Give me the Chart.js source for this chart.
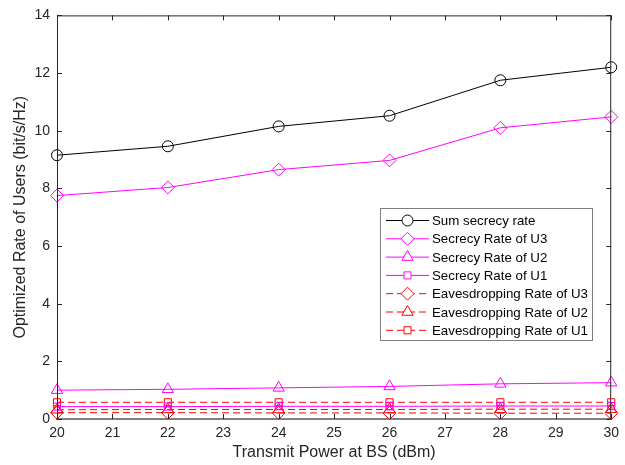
<!DOCTYPE html>
<html lang="en">
<head>
  <meta charset="UTF-8" />
  <title>Optimized Rate of Users</title>
  <script src="https://cdn.jsdelivr.net/npm/chart.js"></script>
  <style>
    * { margin: 0; padding: 0; box-sizing: border-box; }
    body { background: #fff; width: 625px; height: 465px; overflow: hidden; }
    .wrap { position: relative; width: 625px; height: 465px; }
  </style>
</head>
<body>
  <div class="wrap"><canvas id="rateChart" width="625" height="465"></canvas></div>

  <script>
    // data
    const powers = [20, 22, 24, 26, 28, 30];
    const sumSecrecy = [9.15, 9.46, 10.15, 10.52, 11.75, 12.2];
    const secrecyU3 = [7.75, 8.03, 8.65, 8.97, 10.1, 10.48];
    const secrecyU2 = [1.0, 1.03, 1.08, 1.13, 1.22, 1.26];
    const secrecyU1 = [0.43, 0.43, 0.44, 0.44, 0.45, 0.45];
    const eavesU3 = [0.22, 0.22, 0.21, 0.21, 0.2, 0.2];
    const eavesU2 = [0.32, 0.33, 0.33, 0.33, 0.34, 0.34];
    const eavesU1 = [0.58, 0.58, 0.58, 0.58, 0.58, 0.58];
    const xTicks = [20, 21, 22, 23, 24, 25, 26, 27, 28, 29, 30];
    const yTicks = [0, 2, 4, 6, 8, 10, 12, 14];

    const FONT = "'Liberation Sans', Arial, sans-serif";
    const AXIS = "#262626";

    function pts(ys) {
      return powers.map((x, i) => ({ x: x, y: ys[i] }));
    }

    function series(label, ys, color, style, radius, dashed) {
      return {
        label: label,
        data: pts(ys),
        borderColor: color,
        backgroundColor: "rgba(0,0,0,0)",
        borderWidth: 1,
        borderDash: dashed ? [7, 4] : [],
        pointStyle: style,
        pointRadius: radius,
        pointBorderColor: color,
        pointBackgroundColor: "rgba(0,0,0,0)",
        pointBorderWidth: 1,
        tension: 0,
        clip: false
      };
    }

    const datasets = [
      series("Sum secrecy rate", sumSecrecy, "#000000", "circle", 5.5, false),
      series("Secrecy Rate of U3", secrecyU3, "#ff00ff", "rectRot", 6.5, false),
      series("Secrecy Rate of U2", secrecyU2, "#ff00ff", "triangle", 6.5, false),
      series("Secrecy Rate of U1", secrecyU1, "#ff00ff", "rect", 5, false),
      series("Eavesdropping Rate of U3", eavesU3, "#ff0000", "rectRot", 6.5, true),
      series("Eavesdropping Rate of U2", eavesU2, "#ff0000", "triangle", 6.5, true),
      series("Eavesdropping Rate of U1", eavesU1, "#ff0000", "rect", 5, true)
    ];

    // box, inward ticks and the in-axes legend, matlab style
    const matlabFrame = {
      id: "matlabFrame",
      afterDraw(chart) {
        const ctx = chart.ctx;
        const a = chart.chartArea;
        const xs = chart.scales.x, ys = chart.scales.y;
        ctx.save();
        ctx.strokeStyle = AXIS;
        ctx.lineWidth = 1;
        ctx.beginPath();
        ctx.moveTo(a.left + 0.5, a.top + 0.5);
        ctx.lineTo(a.right - 0.5, a.top + 0.5);
        ctx.lineTo(a.right - 0.5, a.bottom);
        ctx.moveTo(a.left + 0.5, a.top);
        ctx.lineTo(a.left + 0.5, a.bottom);
        ctx.stroke();
        ctx.beginPath();
        xTicks.forEach(v => {
          const px = Math.round(xs.getPixelForValue(v)) + 0.5;
          ctx.moveTo(px, a.bottom); ctx.lineTo(px, a.bottom - 5);
          ctx.moveTo(px, a.top); ctx.lineTo(px, a.top + 5);
        });
        yTicks.forEach(v => {
          const py = Math.round(ys.getPixelForValue(v)) + 0.5;
          ctx.moveTo(a.left, py); ctx.lineTo(a.left + 5, py);
          ctx.moveTo(a.right, py); ctx.lineTo(a.right - 5, py);
        });
        ctx.stroke();

        // legend
        const bx = 380.5, by = 208.5, bw = 212, bh = 132;
        ctx.fillStyle = "#fff";
        ctx.fillRect(bx, by, bw, bh);
        ctx.strokeStyle = "#7f7f7f";
        ctx.strokeRect(bx, by, bw, bh);
        ctx.font = "13.3px " + FONT;
        ctx.textBaseline = "middle";
        ctx.textAlign = "left";
        chart.data.datasets.forEach((d, i) => {
          const cy = 220.5 + i * 18.3;
          ctx.strokeStyle = d.borderColor;
          ctx.setLineDash(d.borderDash);
          ctx.beginPath();
          ctx.moveTo(386, cy); ctx.lineTo(429, cy);
          ctx.stroke();
          ctx.setLineDash([]);
          // white knock-out behind marker, then hollow marker
          ctx.fillStyle = "#fff";
          Chart.helpers.drawPoint(ctx, {
            pointStyle: d.pointStyle, radius: d.pointRadius, borderWidth: 1, rotation: 0
          }, 407.5, cy);
          ctx.fillStyle = "#000";
          ctx.fillText(d.label, 432, cy + 1);
        });
        ctx.restore();
      }
    };

    new Chart(document.getElementById("rateChart"), {
      type: "line",
      data: { datasets: datasets },
      options: {
        responsive: false,
        animation: false,
        events: [],
        layout: { padding: { top: 14, right: 10, left: 0, bottom: 0 } },
        plugins: { legend: { display: false }, tooltip: { enabled: false } },
        scales: {
          x: {
            type: "linear",
            min: 20, max: 30,
            afterBuildTicks(s) { s.ticks = xTicks.map(v => ({ value: v })); },
            afterFit(s) { s.height = 46; },
            grid: { display: true, drawOnChartArea: false, drawTicks: false, color: AXIS },
            border: { display: true, color: "#808080", width: 2 },
            ticks: { color: AXIS, font: { family: FONT, size: 14 }, padding: 6, maxRotation: 0 },
            title: {
              display: true, text: "Transmit Power at BS (dBm)", color: AXIS,
              font: { family: FONT, size: 16 }, padding: { top: 0, bottom: 3 }
            }
          },
          y: {
            type: "linear",
            min: 0, max: 14,
            afterBuildTicks(s) { s.ticks = yTicks.map(v => ({ value: v })); },
            afterFit(s) { s.width = 57; },
            grid: { display: true, drawOnChartArea: false, drawTicks: false, color: AXIS },
            border: { display: true, color: AXIS, width: 1 },
            ticks: { color: AXIS, font: { family: FONT, size: 14 }, padding: 7 },
            title: {
              display: true, text: "Optimized Rate of Users (bit/s/Hz)", color: AXIS,
              font: { family: FONT, size: 16 }, padding: { top: 11, bottom: 0 }
            }
          }
        }
      },
      plugins: [matlabFrame]
    });
  </script>
</body>
</html>
